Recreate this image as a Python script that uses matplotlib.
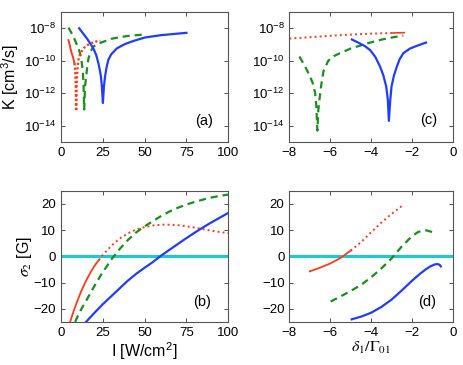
import matplotlib
matplotlib.use('Agg')
import matplotlib.pyplot as plt

plt.rcParams['font.family'] = ['Liberation Sans', 'DejaVu Sans']
plt.rcParams['mathtext.fontset'] = 'custom'
plt.rcParams['mathtext.rm'] = 'Liberation Sans'
plt.rcParams['mathtext.it'] = 'Liberation Sans:italic'

RED = '#ff3a1a'
GREEN = '#179117'
BLUE = '#1f3cff'
CYAN = '#1ccad2'

# (a) log10 K vs intensity
red_a_I = [4.4, 5.1, 5.8, 6.4, 7.0, 7.5, 8.0, 8.4, 8.7, 9.0, 9.3, 9.7, 10.4, 11.3,
           12.4, 13.8, 15.4, 17.3, 19.3, 21.5, 23.4]
red_a_K = [-8.73, -9.0, -9.34, -9.55, -9.74, -9.95, -10.15, -10.56, -11.3, -13.1, -11.5,
           -10.6, -9.93, -9.62, -9.4, -9.2, -9.06, -8.95, -8.86, -8.8, -8.76]
green_a_I = [4.4, 6.0, 7.4, 9.0, 10.4, 11.5, 12.4, 13.0, 13.4, 13.8, 14.3, 15.0, 15.7,
             16.4, 17.8, 19.3, 22.0, 25.3, 30.0, 35.0, 40.0, 48.9]
green_a_K = [-7.96, -8.25, -8.53, -8.9, -9.24, -9.6, -10.15, -10.7, -11.37, -13.0, -11.6,
             -10.96, -10.3, -9.84, -9.4, -9.13, -8.95, -8.83, -8.65, -8.55, -8.47, -8.39]
blue_a_I = [10.8, 13.0, 15.4, 17.5, 19.3, 21.0, 22.3, 23.2, 23.8, 24.4, 25.0, 25.6, 26.3,
            27.2, 28.3, 30.0, 33.3, 38.0, 43.3, 50.0, 60.0, 75.0]
blue_a_K = [-8.0, -8.3, -8.62, -8.95, -9.24, -9.65, -10.15, -10.6, -10.96, -11.6, -12.6,
            -11.6, -10.96, -10.4, -9.93, -9.6, -9.24, -8.98, -8.78, -8.57, -8.42, -8.28]

# (c) log10 K vs detuning
red_c_d = [-8.0, -7.0, -6.0, -5.0, -4.0, -3.0, -2.38]
red_c_K = [-8.63, -8.55, -8.46, -8.39, -8.33, -8.29, -8.27]
green_c_d = [-7.51, -7.25, -6.99, -6.85, -6.74, -6.68, -6.63, -6.58, -6.53, -6.43, -6.33,
             -6.1, -5.8, -5.52, -5.0, -4.5, -4.05, -3.5, -3.0, -2.42]
green_c_K = [-9.74, -10.3, -10.96, -11.4, -11.98, -12.8, -14.3, -13.0, -12.4, -11.4, -10.65,
             -10.0, -9.7, -9.53, -9.25, -9.05, -8.88, -8.7, -8.57, -8.45]
blue_c_d = [-4.94, -4.6, -4.3, -4.05, -3.8, -3.56, -3.4, -3.26, -3.18, -3.13, -3.06, -3.0,
            -2.88, -2.74, -2.6, -2.42, -2.1, -1.76, -1.5, -1.31]
blue_c_K = [-8.69, -8.9, -9.1, -9.34, -9.75, -10.36, -10.9, -11.58, -12.4, -13.7, -12.4,
            -11.58, -10.9, -10.36, -9.9, -9.53, -9.25, -9.08, -8.96, -8.88]

# (b) sigma2 vs intensity
red_b_I = [5.4, 7, 9, 11, 13, 15, 17.5, 20, 22.5, 25, 30, 35, 40, 45, 50, 55, 60, 65, 70,
           75, 80, 85, 90, 95, 100]
red_b_s = [-25.0, -21.8, -18.2, -14.9, -11.9, -9.2, -6.2, -3.6, -1.4, 0.6, 4.0, 6.8, 8.8,
           10.3, 11.2, 11.8, 12.1, 12.1, 11.9, 11.5, 11.0, 10.4, 9.8, 9.3, 8.9]
green_b_I = [8.4, 10, 12.5, 15, 17.5, 20, 22.5, 25, 27.5, 30, 35, 40, 45, 50, 55, 60, 65,
             70, 75, 80, 85, 90, 95, 100]
green_b_s = [-25.0, -22.7, -19.6, -16.9, -14.0, -11.2, -8.5, -5.9, -3.6, -1.2, 2.8, 6.3,
             9.2, 11.5, 13.5, 15.5, 17.2, 18.6, 19.8, 20.8, 21.7, 22.5, 23.1, 23.6]
blue_b_I = [14.9, 20, 25, 30, 35, 40, 45, 50, 55, 59.2, 65, 70, 75, 80, 85, 90, 95, 100]
blue_b_s = [-25.0, -21.5, -18.2, -15.2, -12.2, -9.2, -6.6, -4.3, -2.1, 0.0, 2.6, 4.8, 7.0,
            9.1, 11.1, 13.0, 14.8, 16.6]

# (d) sigma2 vs detuning
red_d_d = [-7.0, -6.5, -6.0, -5.5, -5.0, -4.5, -4.0, -3.5, -3.0, -2.42]
red_d_s = [-5.7, -4.3, -2.7, -0.6, 2.2, 5.4, 9.2, 12.9, 16.2, 19.7]
green_d_d = [-5.98, -5.5, -5.0, -4.5, -4.0, -3.5, -3.0, -2.5, -2.0, -1.7, -1.44, -1.27,
             -1.1, -0.95]
green_d_s = [-17.2, -15.3, -13.2, -10.9, -8.0, -4.6, -0.8, 3.8, 7.7, 9.3, 9.9, 9.9, 9.5, 9.2]
blue_d_d = [-4.95, -4.5, -4.0, -3.5, -3.0, -2.5, -2.0, -1.6, -1.3, -1.1, -0.9, -0.75,
            -0.65, -0.59]
blue_d_s = [-24.0, -23.0, -21.5, -19.3, -16.5, -13.0, -9.3, -6.6, -4.8, -3.8, -3.1, -2.9,
            -3.2, -3.8]

fig = plt.figure(figsize=(4.63, 3.65), dpi=100)
ax_a = fig.add_axes([0.132, 0.611, 0.361, 0.356])
ax_c = fig.add_axes([0.625, 0.611, 0.353, 0.356])
ax_b = fig.add_axes([0.132, 0.118, 0.361, 0.359])
ax_d = fig.add_axes([0.625, 0.118, 0.353, 0.359])

dash = (0, (3.2, 2.2))
dots = (0, (1.0, 1.6))


def style(ax):
    ax.tick_params(direction='in', length=3, width=0.6, labelsize=9.5,
                   top=True, right=True, colors='#333333', labelcolor='black')
    for s in ax.spines.values():
        s.set_color('#555555')
        s.set_linewidth(0.8)


def pw(vals):
    return [10.0 ** v for v in vals]


# (a)
ax_a.plot(green_a_I, pw(green_a_K), color=GREEN, lw=1.6, ls=dash)
ax_a.plot(blue_a_I, pw(blue_a_K), color=BLUE, lw=1.6)
ax_a.plot(red_a_I[:7], pw(red_a_K[:7]), color=RED, lw=1.4)
ax_a.plot(red_a_I[6:], pw(red_a_K[6:]), color=RED, lw=1.7, ls=(0, (0.9, 1.0)))
ax_a.set_yscale('log')
ax_a.set_xlim(0, 100)
ax_a.set_ylim(1e-15, 1e-7)
ax_a.set_xticks([0, 25, 50, 75, 100])
ax_a.set_yticks([1e-14, 1e-12, 1e-10, 1e-8])
ax_a.minorticks_off()
ax_a.set_ylabel('K [cm$^3$/s]', fontsize=11.5, labelpad=2)
ax_a.text(0.80, 0.13, '(a)', transform=ax_a.transAxes, fontsize=10.5)

# (c)
ax_c.plot(red_c_d[:6], pw(red_c_K[:6]), color=RED, lw=1.4, ls=dots)
ax_c.plot(red_c_d[5:], pw(red_c_K[5:]), color=RED, lw=1.2)
ax_c.plot(green_c_d, pw(green_c_K), color=GREEN, lw=1.6, ls=dash)
ax_c.plot(blue_c_d, pw(blue_c_K), color=BLUE, lw=1.6)
ax_c.set_yscale('log')
ax_c.set_xlim(-8, 0)
ax_c.set_ylim(1e-15, 1e-7)
ax_c.set_xticks([-8, -6, -4, -2, 0])
ax_c.set_yticks([1e-14, 1e-12, 1e-10, 1e-8])
ax_c.minorticks_off()
ax_c.text(0.80, 0.14, '(c)', transform=ax_c.transAxes, fontsize=10.5)

# (b)
ax_b.axhline(0, color=CYAN, lw=2.2)
ax_b.plot(red_b_I[:9], red_b_s[:9], color=RED, lw=1.3)
ax_b.plot(red_b_I[8:], red_b_s[8:], color=RED, lw=1.4, ls=dots)
ax_b.plot(green_b_I, green_b_s, color=GREEN, lw=1.6, ls=dash)
ax_b.plot(blue_b_I, blue_b_s, color=BLUE, lw=1.6)
ax_b.set_xlim(0, 100)
ax_b.set_ylim(-25, 25)
ax_b.set_xticks([0, 25, 50, 75, 100])
ax_b.set_yticks([-20, -10, 0, 10, 20])
ax_b.set_ylabel(r'$\sigma_2$ [G]', fontsize=11.5, labelpad=0, math_fontfamily='stix')
ax_b.set_xlabel('I [W/cm$^2$]', fontsize=11.5, labelpad=1)
ax_b.text(0.79, 0.12, '(b)', transform=ax_b.transAxes, fontsize=10.5)

# (d)
ax_d.axhline(0, color=CYAN, lw=2.2)
ax_d.plot(red_d_d[:5], red_d_s[:5], color=RED, lw=1.3)
ax_d.plot(red_d_d[4:], red_d_s[4:], color=RED, lw=1.4, ls=dots)
ax_d.plot(green_d_d, green_d_s, color=GREEN, lw=1.6, ls=dash)
ax_d.plot(blue_d_d, blue_d_s, color=BLUE, lw=1.6)
ax_d.set_xlim(-8, 0)
ax_d.set_ylim(-25, 25)
ax_d.set_xticks([-8, -6, -4, -2, 0])
ax_d.set_yticks([-20, -10, 0, 10, 20])
ax_d.set_xlabel(r'$\delta_1/\Gamma_{01}$', fontsize=11.5, labelpad=1, math_fontfamily='stix')
ax_d.text(0.79, 0.12, '(d)', transform=ax_d.transAxes, fontsize=10.5)

for ax in (ax_a, ax_b, ax_c, ax_d):
    style(ax)

fig.savefig('out.png', dpi=100)
